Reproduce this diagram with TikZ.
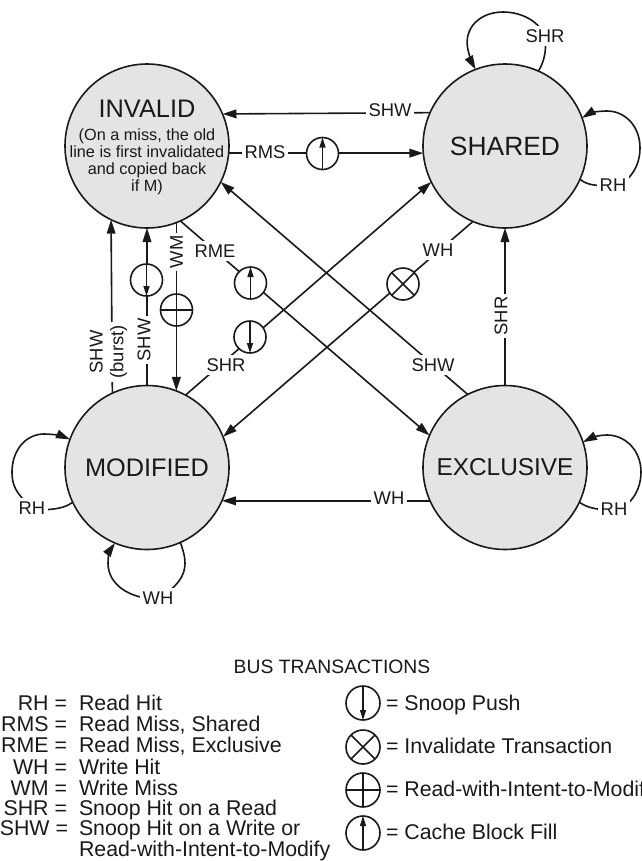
\documentclass[tikz,border=0pt]{standalone}
\usepackage{fontspec}
\setmainfont{Liberation Sans}
\usetikzlibrary{arrows.meta,backgrounds}
\definecolor{stategray}{HTML}{E4E4E4}
\tikzset{
  x=0.75pt,y=-0.75pt,
  every node/.style={text=black!90,inner sep=0pt,outer sep=0pt},
  wire/.style={line width=1.2pt,draw=black!90},
  arrowwire/.style={wire,-{Triangle[length=10.5pt,width=6.5pt]}},
  tinyarrow/.style={line width=0.95pt,draw=black!90,-{Triangle[length=7.5pt,width=4.5pt]}},
  state/.style={circle,draw=black!90,line width=1.2pt,fill=stategray,minimum size=123pt,font=\fontsize{19}{22}\selectfont},
  statenote/.style={align=center,font=\fontsize{12.2}{12.8}\selectfont},
  tag/.style={fill=white,inner xsep=2.2pt,inner ysep=2.5pt,font=\fontsize{13.8}{14}\selectfont},
  sym/.style={circle,draw=black!90,line width=1.2pt,fill=white,minimum size=24pt},
  legsym/.style={sym,minimum size=25.5pt},
  legend/.style={font=\fontsize{16}{16}\selectfont,anchor=base west},
  legendkey/.style={font=\fontsize{16}{16}\selectfont,anchor=base east},
}
\begin{document}
\begin{tikzpicture}
\useasboundingbox (0,0) rectangle (642,861);
\clip (0,0) rectangle (642,861);
% states
\node[state] (invalid) at (147,146) {};
\node[state,font=\fontsize{19.8}{22}\selectfont] (shared) at (505,146) {SHARED};
\node[state] (modified) at (147,467.5) {MODIFIED};
\node[state,font=\fontsize{18.3}{22}\selectfont] (exclusive) at (505,467.5) {EXCLUSIVE};
\node[font=\fontsize{19}{22}\selectfont] (invalidname) at (147,109) {INVALID};
\node[statenote] (invalidnote) at (147,162) {(On a miss, the old\\line is first invalidated\\and copied back\\if M)};
% bus symbols on connectors
\node[sym] (fillA) at (322.5,153.5) {};
\node[sym] (fillB) at (250.5,283) {};
\node[sym] (pushA) at (146.5,280) {};
\node[sym] (pushB) at (250,337) {};
\node[sym] (rwim) at (176.5,310) {};
\node[sym] (inval) at (403,284) {};
% connector tags
\node[tag] (tSHWtop) at (390,110) {SHW};
\node[tag] (tRMS) at (265,152) {RMS};
\node[tag] (tRME) at (215,251) {RME};
\node[tag] (tWHdiag) at (438,250) {WH};
\node[tag] (tSHRdiag) at (226,365) {SHR};
\node[tag] (tSHWdiag) at (433,365) {SHW};
\node[tag,rotate=90,align=center,font=\fontsize{13.8}{15.5}\selectfont] (tSHWburst) at (108.5,352) {SHW\\(burst)};
\node[tag,rotate=90] (tSHWv) at (144,340) {SHW};
\node[tag,rotate=90] (tWM) at (176.5,252) {WM};
\node[tag,rotate=90] (tSHRv) at (501,316) {SHR};
\node[tag] (tWHh) at (389,498) {WH};
\node[tag] (tSHRloop) at (545,36) {SHR};
\node[tag] (tRHshared) at (613,185) {RH};
\node[tag] (tRHexcl) at (614,509) {RH};
\node[tag] (tRHmod) at (32,508) {RH};
\node[tag] (tWHloop) at (158,598) {WH};
\begin{scope}[on background layer]
  \draw[arrowwire] (shared.156.3) -- (invalid.23.7);
  \draw[arrowwire] (invalid.-5.25) -- (shared.185.25);
  \draw[arrowwire] (exclusive.117.3) -- (invalid.-26.6);
  \draw[arrowwire] (invalid.-66.5) -- (exclusive.157.8);
  \draw[arrowwire] (modified.62.7) -- (shared.206.6);
  \draw[arrowwire] (shared.247.4) -- (modified.22.4);
  \draw[arrowwire] (modified.115.5) -- (invalid.244.5);
  \draw[arrowwire] (modified.90) -- (invalid.270);
  \draw[arrowwire] (invalid.-69.3) -- (modified.69.3);
  \draw[arrowwire] (exclusive.90) -- (shared.270);
  \draw[arrowwire] (exclusive.204.1) -- (modified.-24.1);
  % self loops
  \draw[arrowwire] (shared.66.3) .. controls (543,64) and (547,52) .. (545,38)
     .. controls (541,22) and (522,12) .. (503,12)
     .. controls (480,12) and (463,28) .. (468,50)
     .. controls (470,58) and (472,63) .. (shared.111.3);
  \draw[arrowwire] (shared.-24.4) .. controls (586,184) and (592,186) .. (613,186)
     .. controls (623,186) and (640,172) .. (640,148)
     .. controls (640,126) and (625,111) .. (607,111)
     .. controls (599,111) and (590,113) .. (shared.20.6);
  \draw[arrowwire] (exclusive.-25) .. controls (585,506) and (592,510) .. (614,510)
     .. controls (624,510) and (641,496) .. (641,472)
     .. controls (641,450) and (625,435) .. (607,435)
     .. controls (599,435) and (591,438) .. (exclusive.18.1);
  \draw[arrowwire] (modified.205.6) .. controls (66,507) and (59,510) .. (32,510)
     .. controls (22,496) and (12,492) .. (12,472)
     .. controls (12,450) and (26,434) .. (44,434)
     .. controls (52,434) and (62,436) .. (modified.160.3);
  \draw[arrowwire] (modified.-66.4) .. controls (183,550) and (185,556) .. (185,563)
     .. controls (185,576) and (178,586) .. (158,599)
     .. controls (130,599) and (108,585) .. (108,563)
     .. controls (108,556) and (110,550) .. (modified.247);
\end{scope}
% marks inside symbols
\draw[tinyarrow] (fillA.south) -- (fillA.north);
\draw[tinyarrow] (fillB.south) -- (fillB.north);
\draw[tinyarrow] (pushA.north) -- (pushA.south);
\draw[tinyarrow] (pushB.north) -- (pushB.south);
\draw[wire] (rwim.north) -- (rwim.south);
\draw[wire] (rwim.west) -- (rwim.east);
\draw[wire] (inval.45) -- (inval.225);
\draw[wire] (inval.135) -- (inval.315);
% legend
\node[font=\fontsize{14.5}{16}\selectfont] (legtitle) at (332,667) {BUS TRANSACTIONS};
\node[legendkey] (kRH) at (67,710) {RH =};
\node[legendkey] (kRMS) at (67,731) {RMS =};
\node[legendkey] (kRME) at (67,752) {RME =};
\node[legendkey] (kWH) at (67,774) {WH =};
\node[legendkey] (kWM) at (67,795) {WM =};
\node[legendkey] (kSHR) at (67,815.5) {SHR =};
\node[legendkey] (kSHW) at (68,835.5) {SHW =};
\node[legend] (vRH) at (79,710) {Read Hit};
\node[legend] (vRMS) at (79,731) {Read Miss, Shared};
\node[legend] (vRME) at (79,752) {Read Miss, Exclusive};
\node[legend] (vWH) at (79,774) {Write Hit};
\node[legend] (vWM) at (79,795) {Write Miss};
\node[legend] (vSHR) at (79,815.5) {Snoop Hit on a Read};
\node[legend] (vSHW) at (79,835.5) {Snoop Hit on a Write or};
\node[legend] (vSHWb) at (79,856.5) {Read-with-Intent-to-Modify};
\node[legsym] (lpush) at (363,703) {};
\node[legsym] (linval) at (363,747) {};
\node[legsym] (lrwim) at (363,790) {};
\node[legsym] (lfill) at (363,833) {};
\draw[tinyarrow] (lpush.north) -- (lpush.south);
\draw[wire] (linval.45) -- (linval.225);
\draw[wire] (linval.135) -- (linval.315);
\draw[wire] (lrwim.north) -- (lrwim.south);
\draw[wire] (lrwim.west) -- (lrwim.east);
\draw[tinyarrow] (lfill.south) -- (lfill.north);
\node[legend] (lpusht) at (386,710) {= Snoop Push};
\node[legend] (linvalt) at (386,753) {= Invalidate Transaction};
\node[legend] (lrwimt) at (386,796) {= Read-with-Intent-to-Modify};
\node[legend] (lfillt) at (386,839) {= Cache Block Fill};
\end{tikzpicture}
\end{document}
